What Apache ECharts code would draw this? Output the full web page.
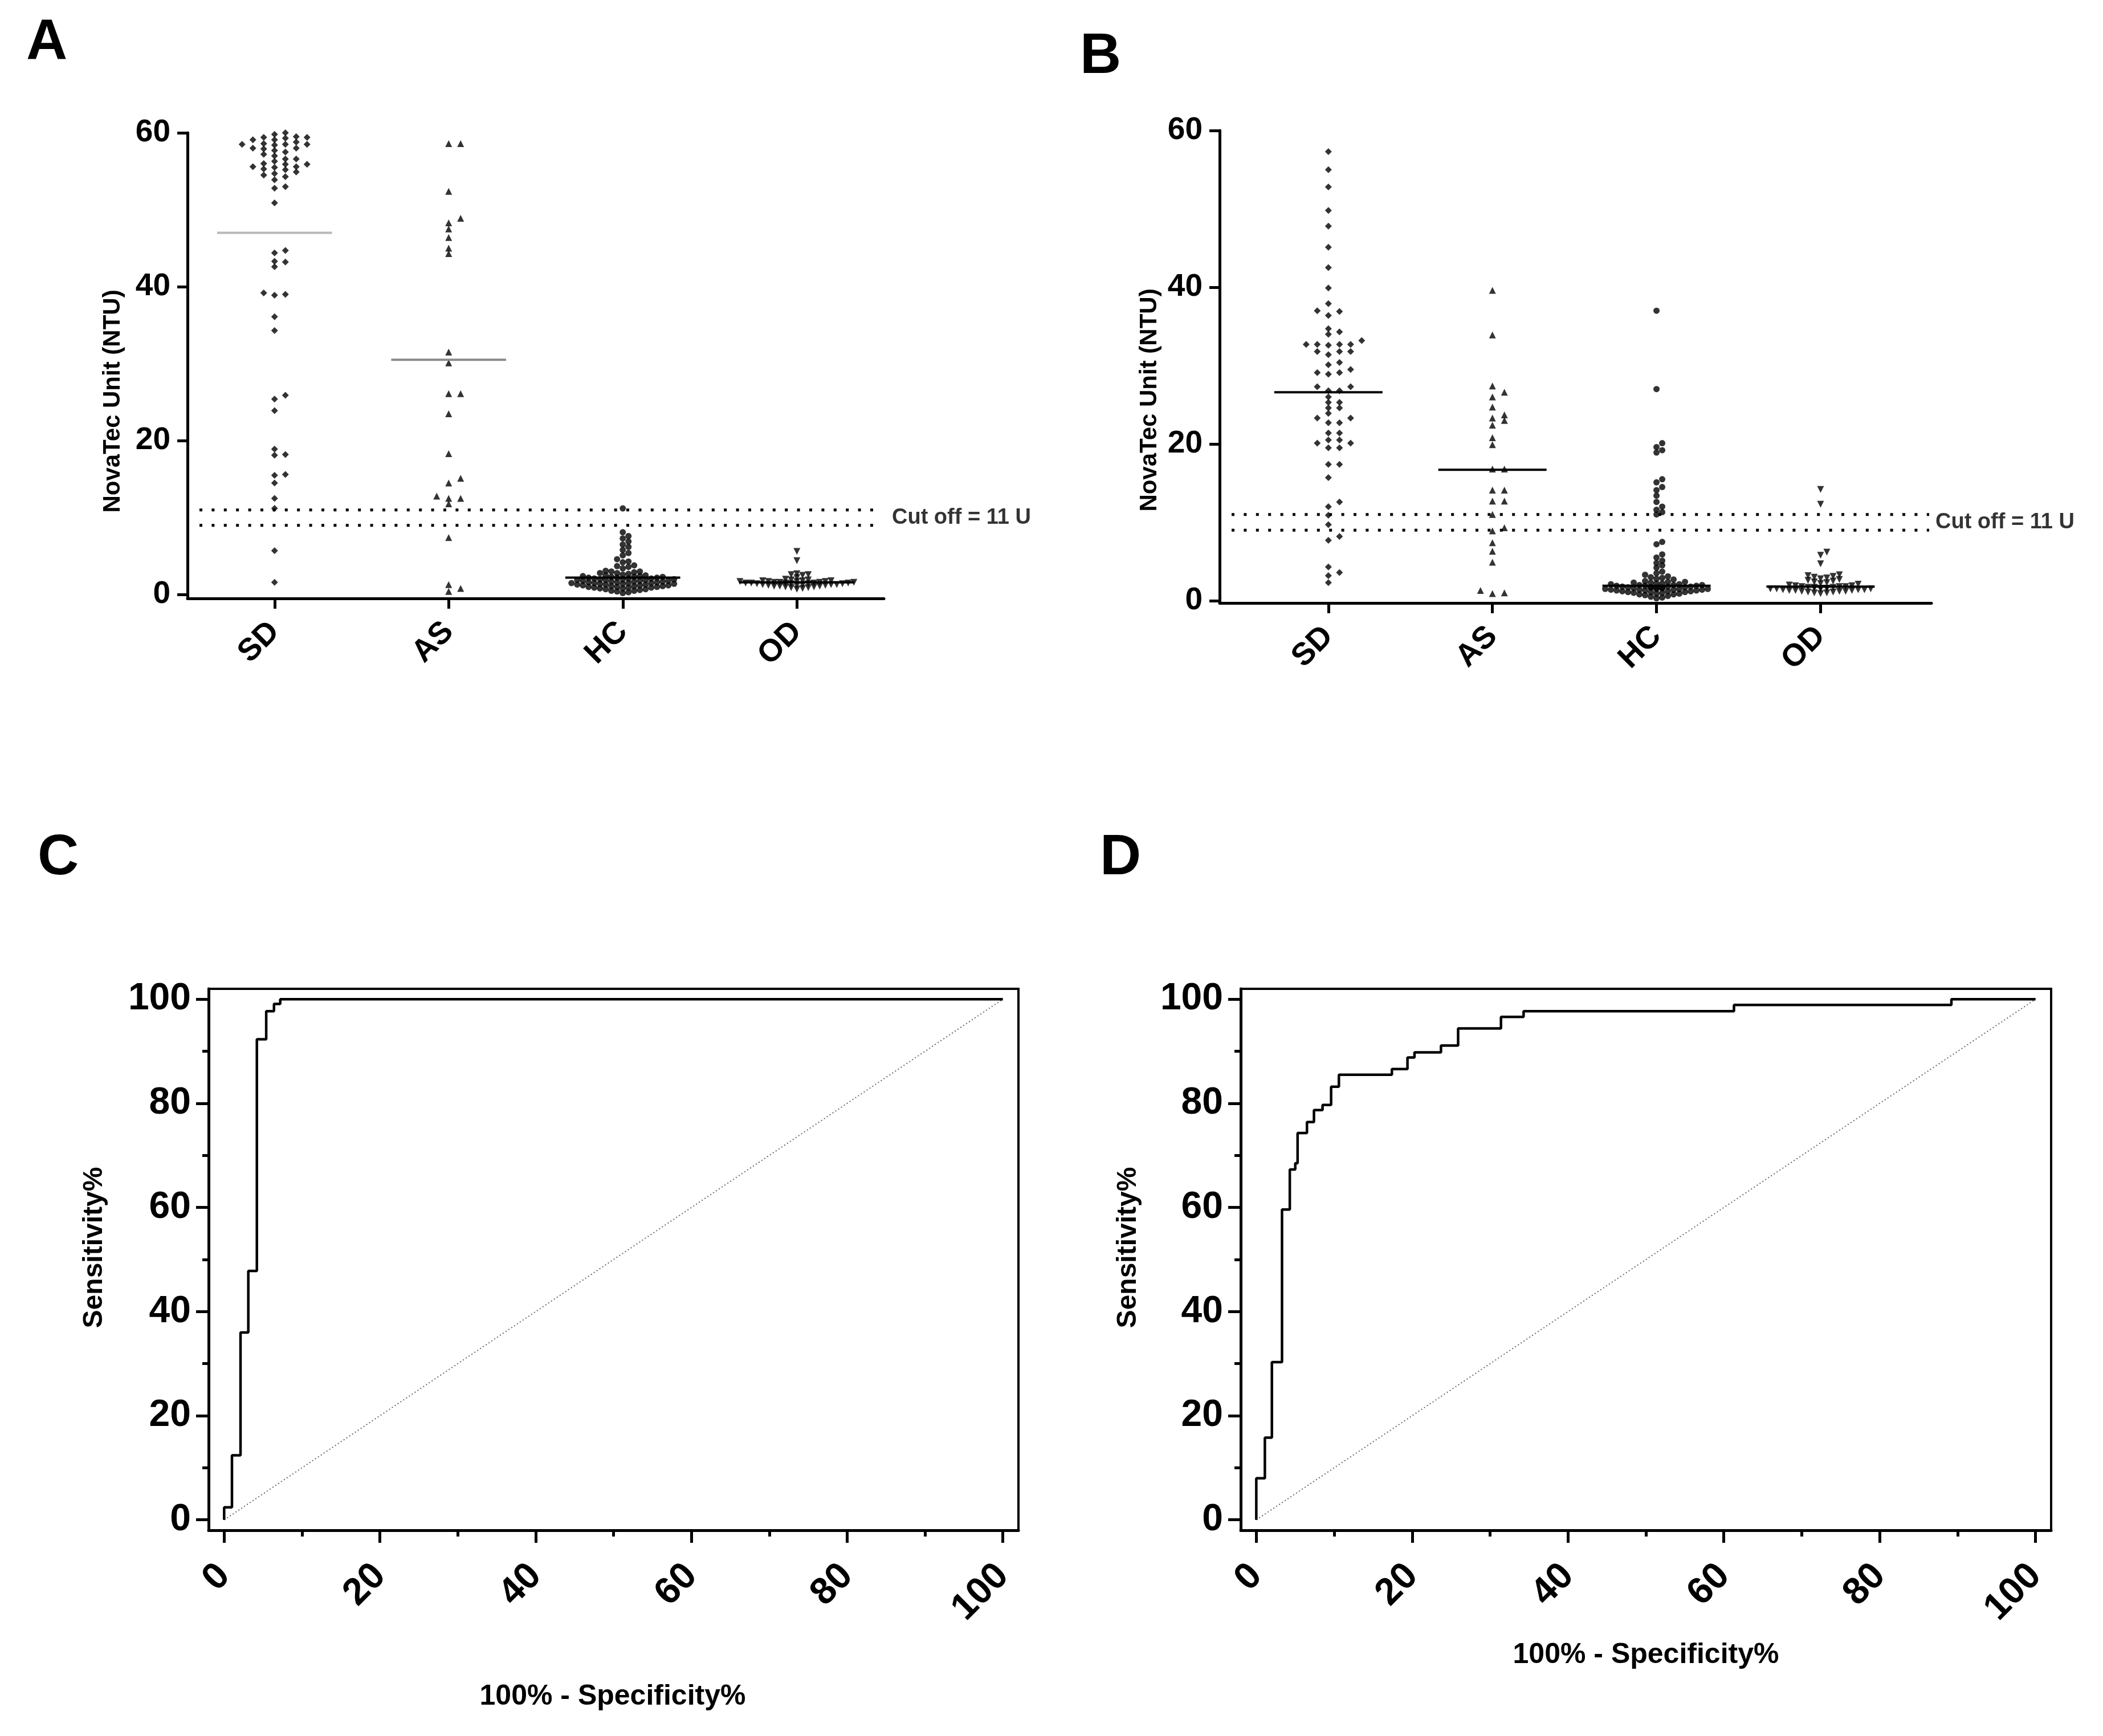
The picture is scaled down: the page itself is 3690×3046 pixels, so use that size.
<!DOCTYPE html>
<html><head><meta charset="utf-8">
<script src="https://cdn.jsdelivr.net/npm/echarts@6/dist/echarts.min.js"></script>
<style>html,body{margin:0;padding:0;background:#fff}#c{width:3690px;height:3046px}</style>
</head><body><div id="c"></div>
<script>
// ---------------- DATA ----------------
const categories = ['SD', 'AS', 'HC', 'OD'];
const cutoffLines = [11, 9];
const cutoffLabel = 'Cut off = 11 U';
const yTicksAB = [0, 20, 40, 60];
const rocTicks = [0, 20, 40, 60, 80, 100];
const rocMinorTicks = [10, 30, 50, 70, 90];

// Panel A
const A_SD = [60.0, 59.8, 59.5, 59.4, 59.4, 59.3, 59.1, 59.1, 58.8, 58.6, 58.5, 58.5, 58.5, 58.4, 58.0, 58.0, 57.9, 57.7, 57.5, 57.2, 57.0, 56.6, 56.6, 56.3, 56.0, 55.9, 55.9, 55.6, 55.6, 55.5, 55.3, 55.2, 54.9, 54.7, 54.5, 54.3, 53.9, 53.0, 52.8, 50.9,
  44.7, 44.4, 43.3, 43.2, 42.6, 39.2, 39.0, 38.9, 36.1, 34.3, 25.9, 25.4, 23.9, 18.9, 18.2, 18.1, 15.6, 15.5, 14.5, 12.5, 11.2, 5.7, 1.6];
const A_AS = [58.6, 58.6, 52.4, 48.9, 48.3, 47.5, 46.4, 45.0, 44.3, 31.5, 30.1, 26.1, 26.1, 23.5, 18.3, 15.1, 14.5, 12.8, 12.5, 12.5, 11.8, 7.4, 1.3, 0.8, 0.4];
const A_HC = [11.2, 8.1, 7.6, 7.3, 6.9, 6.5, 6.2, 5.8, 5.4, 5.1, 4.6, 4.3, 4.2, 3.8, 3.7, 3.6, 3.4, 3.1, 3.0, 3.0, 2.9, 2.8, 2.8, 2.7,
  2.6, 2.5, 2.5, 2.4, 2.4, 2.3, 2.3, 2.3, 2.2, 2.2, 2.2, 2.1, 2.1, 2.1, 2.0, 2.0, 2.0, 1.9, 1.9, 1.9, 1.8, 1.8, 1.8, 1.7, 1.7, 1.7,
  1.6, 1.6, 1.6, 1.5, 1.5, 1.5, 1.5, 1.4, 1.4, 1.4, 1.3, 1.3, 1.3, 1.2, 1.2, 1.2, 1.1, 1.1, 1.1, 1.0, 1.0, 1.0, 0.9, 0.9, 0.9,
  0.8, 0.8, 0.7, 0.7, 0.6, 0.5, 0.5, 0.4, 0.3, 0.2];
const A_OD = [5.6, 4.4, 2.7, 2.6, 2.6, 2.5, 2.2, 2.0, 1.9, 1.9, 1.8, 1.8, 1.8, 1.7, 1.7, 1.7, 1.7, 1.6, 1.6, 1.6, 1.6, 1.5, 1.5, 1.5, 1.5, 1.5,
  1.4, 1.4, 1.4, 1.4, 1.3, 1.3, 1.3, 1.3, 1.2, 1.2, 1.2, 1.1, 1.1, 1.1, 1.0, 1.0, 0.9, 0.9, 0.8, 0.7];
const A_center = [47.0, 30.5, 2.2, 1.6];

// Panel B
const B_SD = [57.3, 55.0, 52.8, 49.8, 47.8, 45.1, 42.5, 39.9, 37.9, 37.0, 36.9, 36.4, 34.7, 34.3, 34.0, 33.2, 32.7, 32.7, 32.7, 32.7, 32.6,
  31.8, 31.8, 31.8, 31.4, 30.4, 30.1, 29.5, 29.1, 29.1, 28.9, 27.3, 27.3, 26.8, 26.8, 26.0, 25.3, 25.3, 24.6, 24.6, 23.9, 23.3, 23.3,
  22.7, 22.7, 21.4, 21.4, 20.5, 20.5, 20.1, 20.1, 19.5, 19.5, 17.4, 17.4, 15.7, 12.6, 12.0, 10.9, 9.7, 8.2, 7.7, 4.3, 3.6, 3.2, 2.3];
const B_AS = [39.6, 33.9, 27.4, 26.6, 26.0, 24.7, 23.7, 23.3, 23.0, 22.4, 20.8, 19.9, 16.8, 16.8, 14.1, 14.1, 12.7, 12.7, 11.0, 9.3, 8.9, 7.4, 6.3, 4.9, 1.3, 1.0, 0.9];
const B_HC = [37.0, 27.0, 20.1, 19.6, 19.2, 18.9, 15.5, 15.1, 14.5, 14.1, 13.4, 12.6, 12.0, 11.6, 11.3, 11.0, 7.5, 7.2, 5.9, 5.5, 5.1, 4.8, 4.5, 4.2,
  3.7, 3.5, 3.3, 3.1, 3.0, 2.9, 2.8, 2.7, 2.5, 2.4, 2.4, 2.3, 2.3, 2.2, 2.2, 2.1, 2.1, 2.0, 2.0, 2.0, 1.9, 1.9, 1.9, 1.8, 1.8, 1.8,
  1.7, 1.7, 1.7, 1.7, 1.6, 1.6, 1.6, 1.6, 1.5, 1.5, 1.5, 1.5, 1.4, 1.4, 1.4, 1.4, 1.3, 1.3, 1.3, 1.2, 1.2, 1.2, 1.1, 1.1, 1.1,
  1.0, 1.0, 0.9, 0.9, 0.8, 0.8, 0.7, 0.6, 0.5, 0.4, 0.3];
const B_OD = [14.2, 12.3, 6.2, 5.8, 4.7, 3.3, 3.2, 3.1, 3.0, 2.9, 2.8, 2.7, 2.6, 2.5, 2.4, 2.3, 2.2, 2.1, 2.0, 1.9, 1.9, 1.8, 1.8, 1.8,
  1.7, 1.7, 1.7, 1.6, 1.6, 1.6, 1.6, 1.5, 1.5, 1.5, 1.5, 1.4, 1.4, 1.4, 1.3, 1.3, 1.3, 1.2, 1.2, 1.2, 1.1, 1.1, 1.0, 1.0, 0.9];
const B_center = [26.6, 16.7, 1.9, 1.8];

// Panel C / D ROC (100% - specificity, sensitivity)
const C_fpr = [0, 0, 1.0, 2.1, 3.1, 4.2, 4.2, 5.4, 6.4, 7.2, 100];
const C_tpr = [0, 2.4, 12.4, 36.0, 47.8, 48.6, 92.3, 97.7, 99.1, 100, 100];
const D_fpr = [0, 0, 1.1, 2.0, 3.3, 4.3, 5.0, 5.3, 6.5, 7.4, 8.5, 9.6, 10.6, 17.4, 19.4, 20.3, 23.7, 25.9, 31.4, 34.3, 61.3, 89.2, 100];
const D_tpr = [0, 8.0, 15.8, 30.3, 59.6, 67.3, 68.5, 74.3, 76.4, 78.7, 79.7, 83.2, 85.5, 86.6, 88.8, 89.8, 91.1, 94.4, 96.6, 97.7, 98.9, 100, 100];

// ---------------- LAYOUT / STYLE ----------------
const FONT = "'Liberation Sans', Arial, Helvetica, sans-serif";
const BLACK = '#000';
const gridA = {left: 329, top: 233, width: 1222, height: 817, xMin: -0.5, xMax: 3.5, yMin: -0.5, yMax: 60};
const gridB = {left: 2140, top: 229, width: 1249, height: 829, xMin: -0.663, xMax: 3.676, yMin: -0.3, yMax: 60};
const gridC = {left: 366, top: 1735, width: 1421, height: 950, min: -2, max: 102};
const gridD = {left: 2177, top: 1735, width: 1422, height: 950, min: -2, max: 102};

function swarm(values, idx, o) {
  const sorted = values.slice().sort((a, b) => a - b);
  const placed = [];
  const out = [];
  const step = o.sx / 2;
  const K = Math.floor(o.maxHalf / step);
  for (const v of sorted) {
    const yp = v * o.yPx;
    let best = 0, bestCost = Infinity;
    for (let j = 0; j <= 2 * K; j++) {
      const k = j === 0 ? 0 : (j % 2 ? (j + 1) / 2 : -j / 2);
      const xp = k * step;
      let cost = 0;
      for (const p of placed) {
        if (Math.abs(p[0] - xp) < o.sx * 0.98 && Math.abs(p[1] - yp) < o.sy) cost++;
      }
      if (cost === 0) { best = xp; bestCost = 0; break; }
      if (cost < bestCost) { bestCost = cost; best = xp; }
    }
    placed.push([best, yp]);
    out.push([idx + best / o.bandPx, v]);
  }
  return out;
}

function dotPanel(g, gi, groups, centers, centerColors, params) {
  const yPx = g.height / (g.yMax - g.yMin);
  const bandPx = g.width / (g.xMax - g.xMin);
  const symbols = [
    {symbol: 'diamond', size: 12, rot: 0},
    {symbol: 'triangle', size: 12, rot: 0},
    {symbol: 'circle', size: 11, rot: 0},
    {symbol: 'triangle', size: 12, rot: 180}
  ];
  const series = [];
  groups.forEach((vals, i) => {
    const p = params[i];
    series.push({
      type: 'scatter', xAxisIndex: gi, yAxisIndex: gi,
      data: swarm(vals, i, {yPx, bandPx, sx: p[0], sy: p[1], maxHalf: p[2]}),
      symbol: symbols[i].symbol, symbolSize: symbols[i].size, symbolRotate: symbols[i].rot,
      itemStyle: {color: BLACK}, silent: true, z: 3
    });
  });
  centers.forEach((m, i) => {
    series.push({
      type: 'line', xAxisIndex: gi, yAxisIndex: gi,
      data: [[i - 0.33, m], [i + 0.33, m]], symbol: 'none',
      lineStyle: {color: centerColors[i], width: 4}, silent: true, z: 4
    });
  });
  const x0 = g.xMin + 21 / bandPx, x1 = g.xMax - 4 / bandPx;
  cutoffLines.forEach(c => {
    series.push({
      type: 'line', xAxisIndex: gi, yAxisIndex: gi,
      data: [[x0, c], [x1, c]], symbol: 'none',
      lineStyle: {color: BLACK, width: 5, type: [5, 16.4], cap: 'butt'}, silent: true, z: 2
    });
  });
  const mid = (cutoffLines[0] + cutoffLines[1]) / 2;
  series.push({
    type: 'scatter', xAxisIndex: gi, yAxisIndex: gi,
    data: [[g.xMax, mid]], symbolSize: 0, silent: true,
    label: {show: true, position: 'right', distance: params.labelDist, formatter: cutoffLabel,
      color: BLACK, fontWeight: 'bold', fontFamily: FONT, fontSize: 38}
  });
  return series;
}

const seriesA = dotPanel(gridA, 0, [A_SD, A_AS, A_HC, A_OD], A_center, ['#b8b8b8', '#8a8a8a', BLACK, BLACK],
  Object.assign([[19, 9, 80], [21, 9, 60], [10, 8, 100], [10, 6, 100]], {labelDist: 14}));
const seriesB = dotPanel(gridB, 1, [B_SD, B_AS, B_HC, B_OD], B_center, [BLACK, BLACK, BLACK, BLACK],
  Object.assign([[19.5, 9, 80], [21, 9, 60], [10, 8, 95], [11, 7, 90]], {labelDist: 7}));

function rocSeries(fpr, tpr, gi) {
  return [
    {type: 'line', xAxisIndex: gi, yAxisIndex: gi, symbol: 'none', silent: true, z: 2,
      data: [[rocTicks[0], rocTicks[0]], [rocTicks[rocTicks.length - 1], rocTicks[rocTicks.length - 1]]],
      lineStyle: {color: '#666', width: 2, type: [2, 4]}},
    {type: 'line', xAxisIndex: gi, yAxisIndex: gi, symbol: 'none', silent: true, z: 3, step: 'end',
      data: fpr.map((x, i) => [x, tpr[i]]),
      lineStyle: {color: BLACK, width: 4.5}}
  ];
}

const labelBase = {color: BLACK, fontWeight: 'bold', fontFamily: FONT};
function abX(g, gi) {
  return {type: 'value', gridIndex: gi, min: g.xMin, max: g.xMax, position: 'bottom',
    axisLine: {show: true, onZero: false, lineStyle: {color: BLACK, width: 5}},
    axisTick: {show: true, length: 18, lineStyle: {color: BLACK, width: 5}, customValues: [0, 1, 2, 3]},
    axisLabel: Object.assign({show: true, customValues: [0, 1, 2, 3], rotate: 45, margin: 50, fontSize: 55,
      formatter: v => categories[Math.round(v)] || ''}, labelBase),
    splitLine: {show: false}};
}
function abY(g, gi) {
  return {type: 'value', gridIndex: gi, min: g.yMin, max: g.yMax, position: 'left',
    axisLine: {show: true, onZero: false, lineStyle: {color: BLACK, width: 5}},
    axisTick: {show: true, length: 18, lineStyle: {color: BLACK, width: 5}, customValues: yTicksAB},
    axisLabel: Object.assign({show: true, customValues: yTicksAB, margin: 30, fontSize: 55}, labelBase),
    splitLine: {show: false}};
}
function rocAxis(g, gi, pos, isX) {
  const a = {type: 'value', gridIndex: gi, min: g.min, max: g.max, position: pos,
    axisLine: {show: true, onZero: false, lineStyle: {color: BLACK, width: 5}},
    axisTick: {show: true, length: 22, lineStyle: {color: BLACK, width: 5}, customValues: rocTicks},
    axisLabel: Object.assign({show: true, customValues: rocTicks, margin: isX ? 70 : 31, fontSize: 66}, labelBase),
    splitLine: {show: false}};
  if (isX) a.axisLabel.rotate = 45;
  return a;
}
function rocMinor(g, gi, pos) {
  return {type: 'value', gridIndex: gi, min: g.min, max: g.max, position: pos, offset: 0,
    axisLine: {show: false, onZero: false},
    axisTick: {show: true, length: 11, lineStyle: {color: BLACK, width: 5}, customValues: rocMinorTicks},
    axisLabel: {show: false}, splitLine: {show: false}};
}

function gridOf(g, box) {
  return {left: g.left, top: g.top, width: g.width, height: g.height, containLabel: false, outerBoundsMode: 'none',
    show: !!box, borderColor: BLACK, borderWidth: box ? 4 : 0, backgroundColor: 'transparent'};
}

function txt(text, x, y, size, rot) {
  return {type: 'text', x: x, y: y, rotation: rot || 0, silent: true,
    style: {text: text, fill: BLACK, fontSize: size, fontWeight: 'bold', fontFamily: FONT,
      align: 'center', verticalAlign: 'middle', textAlign: 'center', textVerticalAlign: 'middle'}};
}

const option = {
  backgroundColor: '#fff',
  animation: false,
  grid: [gridOf(gridA, false), gridOf(gridB, false), gridOf(gridC, true), gridOf(gridD, true)],
  xAxis: [abX(gridA, 0), abX(gridB, 1), rocAxis(gridC, 2, 'bottom', true), rocAxis(gridD, 3, 'bottom', true),
    rocMinor(gridC, 2, 'bottom'), rocMinor(gridD, 3, 'bottom')],
  yAxis: [abY(gridA, 0), abY(gridB, 1), rocAxis(gridC, 2, 'left', false), rocAxis(gridD, 3, 'left', false),
    rocMinor(gridC, 2, 'left'), rocMinor(gridD, 3, 'left')],
  series: [].concat(seriesA, seriesB, rocSeries(C_fpr, C_tpr, 2), rocSeries(D_fpr, D_tpr, 3)),
  graphic: [
    txt('A', 82, 76, 100), txt('B', 1931, 100, 100), txt('C', 102, 1506, 100), txt('D', 1966, 1506, 100),
    txt('NovaTec Unit (NTU)', 198, 704, 42, Math.PI / 2),
    txt('NovaTec Unit (NTU)', 2017, 702, 42, Math.PI / 2),
    txt('Sensitivity%', 166, 2189, 48, Math.PI / 2),
    txt('Sensitivity%', 1980, 2189, 48, Math.PI / 2),
    txt('100% - Specificity%', 1075, 2977, 50),
    txt('100% - Specificity%', 2888, 2904, 50)
  ]
};

const chart = echarts.init(document.getElementById('c'), null, {renderer: 'canvas', width: 3690, height: 3046});
chart.setOption(option);
</script>
</body></html>
